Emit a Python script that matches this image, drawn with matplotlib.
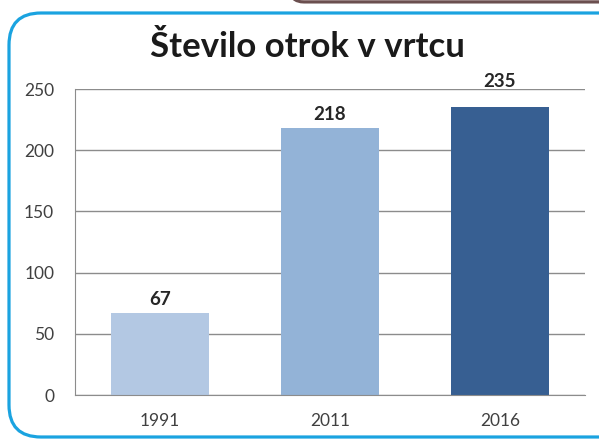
import matplotlib
matplotlib.use('Agg')
from matplotlib import pyplot as plt
from matplotlib.patches import FancyBboxPatch

years = ['1991', '2011', '2016']
counts = [67, 218, 235]
colors = ['#b3c8e3', '#93b3d7', '#375f92']
yticks = [0, 50, 100, 150, 200, 250]
# label gap above each bar in points (the last one sits above the 250 line)
label_gap = [6, 6, 15]

plt.rcParams['font.family'] = ['Lato', 'DejaVu Sans']

fig = plt.figure(figsize=(5.99, 4.40), dpi=100)

# background frame in pixel coordinates
bg = fig.add_axes([0, 0, 1, 1])
bg.set_xlim(0, 599)
bg.set_ylim(440, 0)
bg.axis('off')
bg.add_patch(FancyBboxPatch((290, -30), 400, 32, boxstyle='round,pad=0,rounding_size=14',
                            facecolor='#c9b8b8', edgecolor='#6b4f4f', linewidth=2.2))
bg.add_patch(FancyBboxPatch((9, 13), 640, 424, boxstyle='round,pad=0,rounding_size=32',
                            facecolor='white', edgecolor='#1aa3e0', linewidth=2.3))

# chart axes: x 75..585 px, y 89..395 px
ax = fig.add_axes([75 / 599, 1 - 395 / 440, 510 / 599, 306 / 440])
ax.set_facecolor('none')
x = range(len(years))
bars = ax.bar(x, counts, width=0.58, color=colors, zorder=2)
ax.set_xlim(-0.5, 2.5)
ax.set_ylim(0, 250)
ax.set_yticks(yticks)
ax.yaxis.grid(True, color='#8c8c8c', linewidth=1.0, zorder=0)
ax.set_axisbelow(True)
for s in ['top', 'right']:
    ax.spines[s].set_visible(False)
ax.spines['left'].set_color('#8c8c8c')
ax.spines['bottom'].set_color('#8c8c8c')
ax.tick_params(axis='y', length=0, pad=15, labelsize=12.5, labelcolor='#404040')
ax.tick_params(axis='x', length=0, pad=13, labelsize=12.5, labelcolor='#404040')
ax.set_xticks(list(x))
ax.set_xticklabels(years)

for b, v, g in zip(bars, counts, label_gap):
    ax.annotate(str(v), (b.get_x() + b.get_width() / 2, v), xytext=(0, g),
                textcoords='offset points', ha='center', va='baseline',
                fontsize=13.5, fontweight='bold', color='#262626')

fig.text(307 / 599, 1 - 47 / 440, 'Število otrok v vrtcu', ha='center', va='center',
         fontsize=25, fontweight='bold', color='#1a1a1a')

fig.savefig('out.png', dpi=100)
